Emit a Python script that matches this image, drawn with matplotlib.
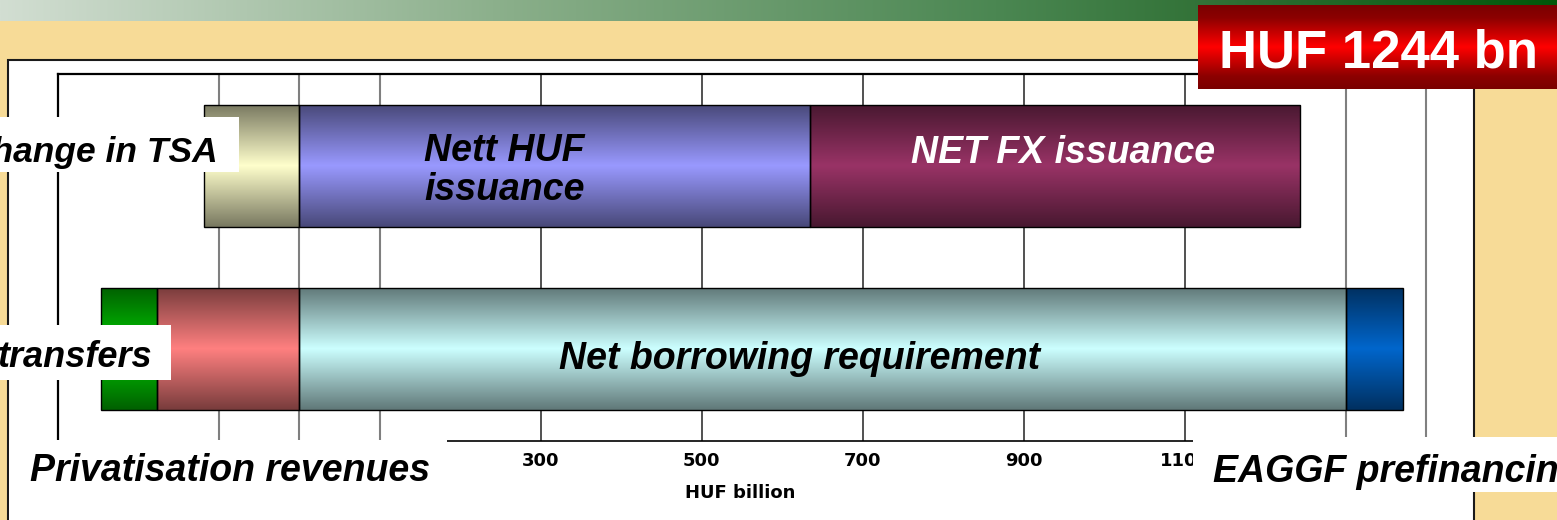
import numpy as np
import matplotlib
matplotlib.use("Agg")
import matplotlib.pyplot as plt
from matplotlib.patches import Rectangle
from matplotlib.colors import to_rgb

# ---------------- data (HUF billion) ----------------
financing_labels = ["Change in TSA", "Nett HUF issuance", "NET FX issuance"]
financing_values = [-118, 635, 609]
financing_colors = ["#FFFFCC", "#9999FF", "#993366"]

requirement_labels = ["Privatisation revenues", "transfers",
                      "Net borrowing requirement", "EAGGF prefinancing"]
requirement_values = [-70, -177, 1301, 70]
requirement_colors = ["#00CC00", "#FF8080", "#CCFFFF", "#0066CC"]

bar_rows = [1, 0]                      # financing on top, requirement below
major_grid = [300, 500, 700, 900, 1100]
major_labels = ["300", "500", "700", "900", "1100"]
minor_grid = [-100, 0, 100, 1300]
x_range = (-300, 1400)
axis_title = "HUF billion"

# ---------------- figure setup ----------------
W, H, DPI = 1557, 520, 100
fig = plt.figure(figsize=(W / DPI, H / DPI), dpi=DPI)
fig.patch.set_facecolor("#F7DB97")

LABEL_FONT = dict(family="Liberation Sans", weight="bold", style="italic")


def vertical_shade(base, n=256, edge=0.47):
    """Column of colours: dark at both edges, full colour in the middle."""
    t = np.linspace(0.0, 1.0, n)
    f = edge + (1.0 - edge) * (1.0 - np.abs(2.0 * t - 1.0))
    rgb = np.array(to_rgb(base))
    return (f[:, None] * rgb[None, :])[:, None, :]


def stacked_lefts(values):
    pos = sum(v for v in values if v < 0)
    lefts, widths = [], []
    for v in values:
        lefts.append(pos)
        widths.append(abs(v))
        pos += abs(v)
    return lefts, widths


# background layer (pixel coordinates)
bg = fig.add_axes([0, 0, 1, 1], zorder=0)
bg.set_xlim(0, W)
bg.set_ylim(H, 0)
bg.axis("off")

band_stops = np.array([0.0, 0.33, 0.64, 0.8, 1.0])
band_cols = np.array([(210, 222, 210), (137, 174, 137), (75, 135, 82),
                      (45, 110, 50), (0, 88, 10)]) / 255.0
xs = np.linspace(0, 1, 600)
band = np.stack([np.interp(xs, band_stops, band_cols[:, k]) for k in range(3)], axis=-1)
bg.imshow(band[None, :, :], extent=(0, W, 21, 0), aspect="auto", interpolation="bilinear")
bg.add_patch(Rectangle((8, 60), 1466, 480, facecolor="white",
                       edgecolor="#1a1a1a", lw=1.5))
bg.set_xlim(0, W)
bg.set_ylim(H, 0)

# ---------------- chart ----------------
ax = fig.add_axes([58 / W, (H - 441) / H, (1426 - 58) / W, (441 - 74) / H], zorder=1)
ax.set_facecolor("none")

BAR_H = 0.665
rows = [(financing_values, financing_colors), (requirement_values, requirement_colors)]
for row, (vals, cols) in zip(bar_rows, rows):
    lefts, widths = stacked_lefts(vals)
    bars = ax.barh(row, widths, left=lefts, height=BAR_H, color="none",
                   edgecolor="black", lw=1.0, zorder=3)
    for patch, c in zip(bars, cols):
        x0, y0 = patch.get_x(), patch.get_y()
        im = ax.imshow(vertical_shade(c),
                       extent=(x0, x0 + patch.get_width(), y0, y0 + patch.get_height()),
                       aspect="auto", interpolation="bilinear", zorder=2)
        im.set_clip_path(patch)

ax.set_xlim(*x_range)
ax.set_ylim(-0.5, 1.5)
ax.set_yticks([])
ax.set_xticks(major_grid, labels=major_labels)
ax.set_xticks(minor_grid, minor=True)
ax.tick_params(axis="x", which="both", length=0, pad=8)
for lab in ax.get_xticklabels():
    lab.set_fontfamily("DejaVu Sans")
    lab.set_fontweight("bold")
    lab.set_fontsize(13)
ax.grid(axis="x", which="major", color="#333333", lw=1.2, zorder=0.5)
ax.grid(axis="x", which="minor", color="#7f7f7f", lw=1.5, zorder=0.5)
ax.set_axisbelow(True)
for side, col, lw in [("left", "black", 1.6), ("top", "black", 1.6),
                      ("bottom", "black", 1.2), ("right", "#808080", 1.5)]:
    ax.spines[side].set_color(col)
    ax.spines[side].set_linewidth(lw)

# labels inside the bars
ax.text(155, 0.813, "Nett HUF\nissuance", ha="left", va="baseline",
        fontsize=27, linespacing=1.1, color="black", zorder=5, **LABEL_FONT)
ax.text(949, 1.015, financing_labels[2], ha="center", va="baseline",
        fontsize=27, color="white", zorder=5, **LABEL_FONT)
ax.text(621, -0.108, requirement_labels[2], ha="center", va="baseline",
        fontsize=27, color="black", zorder=5, **LABEL_FONT)

# ---------------- overlay: label boxes and total ----------------
ov = fig.add_axes([0, 0, 1, 1], zorder=5)
ov.set_xlim(0, W)
ov.set_ylim(H, 0)
ov.axis("off")
ov.patch.set_visible(False)

for (x, y, w, h) in [(0, 117, 239, 55), (0, 325, 171, 55),
                     (9.5, 440, 437.5, 80), (1193, 437, 364, 55)]:
    ov.add_patch(Rectangle((x, y), w, h, facecolor="white", edgecolor="none"))

ov.text(218, 162, financing_labels[0], ha="right", va="baseline",
        fontsize=25.5, color="black", **LABEL_FONT)
ov.text(152, 367, requirement_labels[1], ha="right", va="baseline",
        fontsize=26, color="black", **LABEL_FONT)
ov.text(30, 481, requirement_labels[0], ha="left", va="baseline",
        fontsize=27, color="black", **LABEL_FONT)
ov.text(1213, 482, requirement_labels[3], ha="left", va="baseline",
        fontsize=27, color="black", **LABEL_FONT)
ov.text(740, 493, axis_title, ha="center", va="center", fontsize=13,
        family="DejaVu Sans", weight="bold", color="black")

# red total box
red = np.array([(122, 0, 0), (140, 0, 0), (255, 0, 0), (140, 0, 0), (122, 0, 0)]) / 255.0
ts = np.linspace(0, 1, 200)
red_stops = [0.0, 0.15, 0.5, 0.85, 1.0]
red_col = np.stack([np.interp(ts, red_stops, red[:, k]) for k in range(3)], axis=-1)
ov.imshow(red_col[:, None, :], extent=(1198, 1557, 89, 5), aspect="auto",
          interpolation="bilinear")
total = financing_values[1] + financing_values[2]
ov.text(1379, 67, f"HUF {total} bn", ha="center", va="baseline", fontsize=38,
        family="Liberation Sans", weight="bold", color="white")
ov.set_xlim(0, W)
ov.set_ylim(H, 0)

fig.savefig("out.png", dpi=DPI, facecolor=fig.get_facecolor())
